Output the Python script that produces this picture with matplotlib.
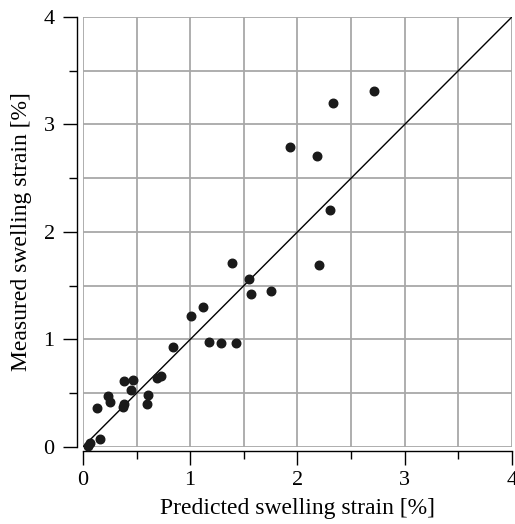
import matplotlib.pyplot as plt
import numpy as np

plt.rcParams['font.family'] = ['Liberation Serif', 'DejaVu Serif']

# predicted vs measured swelling strain [%]
predicted = [0.05, 0.07, 0.16, 0.13, 0.23, 0.25, 0.38, 0.47, 0.45, 0.37, 0.38,
             0.61, 0.60, 0.69, 0.73, 0.84, 1.01, 1.12, 1.18, 1.29, 1.43, 1.39,
             1.55, 1.57, 1.75, 2.20, 2.71, 2.33, 1.93, 2.18, 2.30]
measured = [0.01, 0.04, 0.07, 0.36, 0.47, 0.42, 0.61, 0.62, 0.53, 0.37, 0.40,
            0.48, 0.40, 0.64, 0.66, 0.93, 1.22, 1.30, 0.98, 0.97, 0.97, 1.71,
            1.56, 1.42, 1.45, 1.69, 3.31, 3.20, 2.79, 2.71, 2.20]
ticks = [0, 1, 2, 3, 4]

fig = plt.figure(figsize=(5.15, 5.24), dpi=100)
ax = fig.add_axes([0.161, 0.147, 0.833, 0.8206])

ax.plot([0, 4], [0, 4], color='black', lw=1.0, zorder=2)
ax.scatter(predicted, measured, s=38, color='#1a1a1a', zorder=3, clip_on=False)

ax.set_xlim(0, 4)
ax.set_ylim(0, 4)
ax.set_xticks(ticks)
ax.set_yticks(ticks)
ax.set_xticks(np.arange(0.5, 4, 1.0), minor=True)
ax.set_yticks(np.arange(0.5, 4, 1.0), minor=True)
ax.grid(True, which='both', color='#a8a8a8', lw=1.3, zorder=0)
ax.set_axisbelow(True)

for s in ['top', 'right']:
    ax.spines[s].set_visible(False)
ax.spines['left'].set_position(('outward', 4.3))
ax.spines['bottom'].set_position(('outward', 3.2))
for s in ['left', 'bottom']:
    ax.spines[s].set_linewidth(1.0)

ax.tick_params(which='major', direction='out', length=10, width=1.0, labelsize=16)
ax.tick_params(axis='y', which='major', pad=6)
ax.tick_params(axis='x', which='major', pad=4)
ax.tick_params(which='minor', direction='out', length=6, width=1.0)

ax.set_xlabel('Predicted swelling strain [%]', fontsize=17, labelpad=6)
ax.set_ylabel('Measured swelling strain [%]', fontsize=17, labelpad=8)

fig.savefig('out.png', dpi=100)
